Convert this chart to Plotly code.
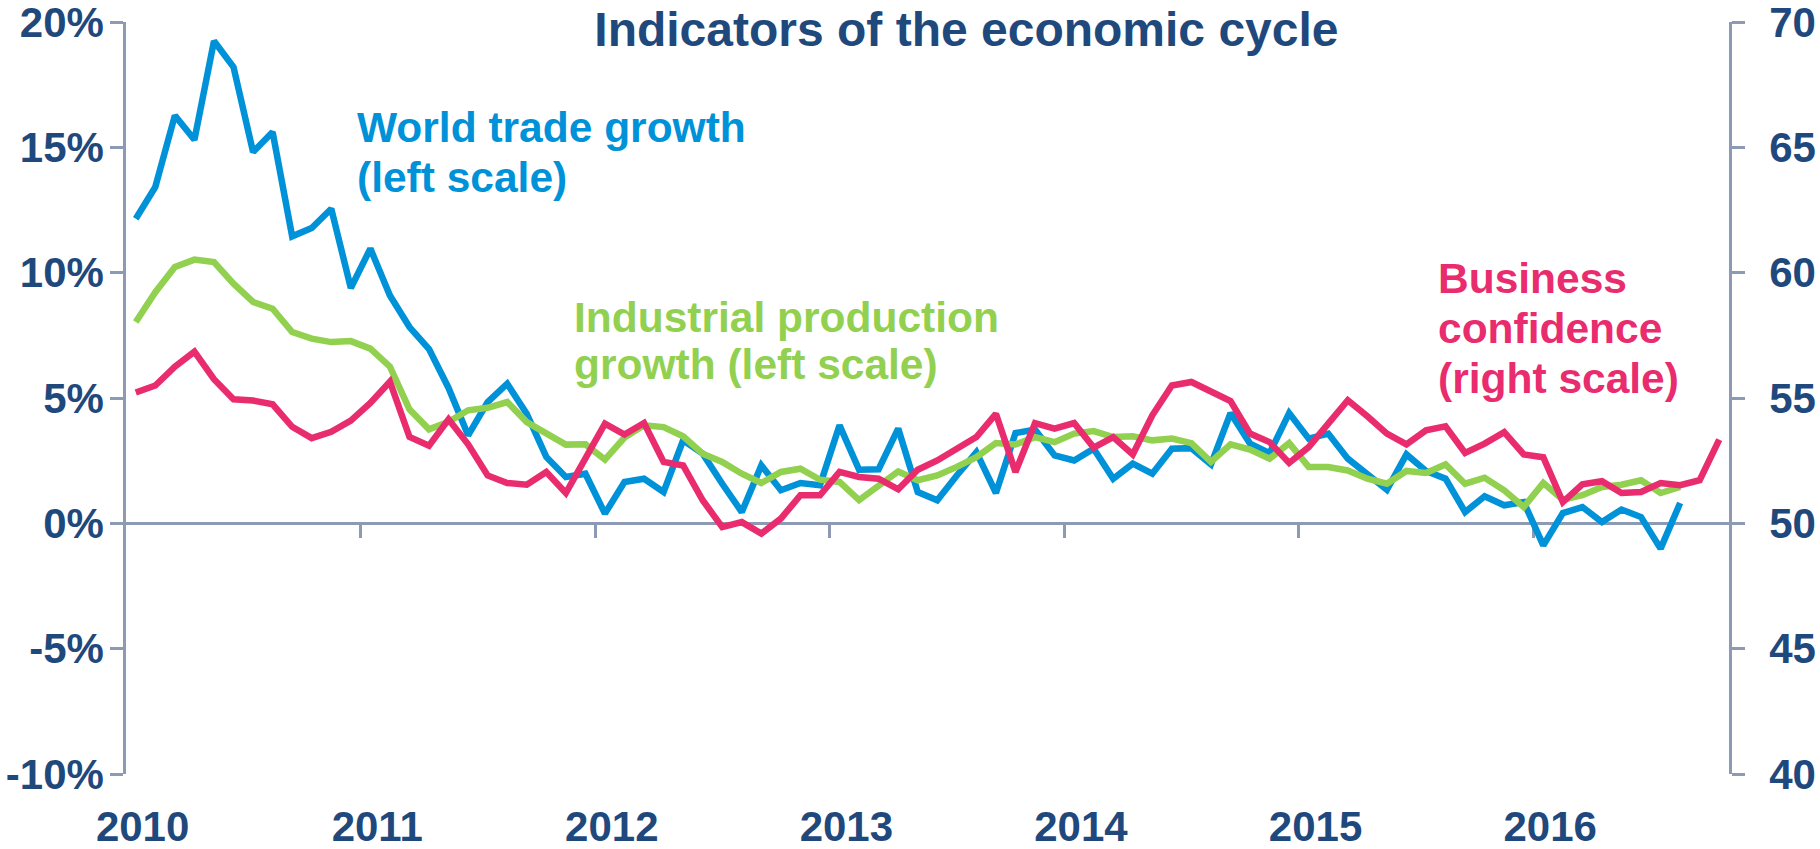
import plotly.graph_objects as go

# Monthly data, Jan 2010 onward
world_trade = [12.15, 13.42, 16.27, 15.30, 19.24, 18.2, 14.81, 15.61, 11.45, 11.78, 12.55, 9.39,
               10.96, 9.09, 7.83, 6.95, 5.4, 3.51, 4.84, 5.57, 4.37, 2.65, 1.85, 1.98,
               0.39, 1.65, 1.78, 1.25, 3.31, 2.78, 1.58, 0.45, 2.31, 1.32, 1.61, 1.52,
               3.91, 2.14, 2.16, 3.78, 1.25, 0.92, 1.91, 2.84, 1.21, 3.6, 3.74, 2.71,
               2.51, 2.98, 1.78, 2.38, 1.98, 2.98, 3.0, 2.35, 4.4, 3.18, 2.8, 4.4,
               3.38, 3.58, 2.58, 1.98, 1.34, 2.75, 2.09, 1.78, 0.45, 1.08, 0.72, 0.85,
               -0.88, 0.41, 0.65, 0.05, 0.55, 0.25, -1.01, 0.81]

industrial = [8.03, 9.22, 10.23, 10.52, 10.42, 9.56, 8.83, 8.56, 7.63, 7.37, 7.23, 7.27,
              6.97, 6.25, 4.55, 3.75, 4.05, 4.51, 4.61, 4.84, 4.04, 3.58, 3.14, 3.15,
              2.54, 3.42, 3.91, 3.84, 3.47, 2.78, 2.45, 1.98, 1.61, 2.05, 2.18, 1.74,
              1.65, 0.93, 1.52, 2.07, 1.72, 1.91, 2.25, 2.64, 3.2, 3.15, 3.44, 3.24,
              3.58, 3.68, 3.44, 3.47, 3.31, 3.38, 3.2, 2.45, 3.15, 2.94, 2.58, 3.2,
              2.25, 2.25, 2.11, 1.78, 1.58, 2.09, 2.01, 2.35, 1.58, 1.82, 1.32, 0.65,
              1.61, 0.94, 1.12, 1.45, 1.54, 1.72, 1.21, 1.45]

confidence = [55.22, 55.5, 56.25, 56.85, 55.75, 54.95, 54.9, 54.75, 53.85, 53.4, 53.65, 54.1,
              54.8, 55.65, 53.45, 53.1, 54.15, 53.15, 51.91, 51.61, 51.54, 52.05, 51.21, 52.54,
              53.98, 53.54, 54.0, 52.45, 52.31, 50.92, 49.85, 50.05, 49.59, 50.19, 51.12, 51.12,
              52.05, 51.85, 51.78, 51.36, 52.14, 52.51, 52.98, 53.44, 54.37, 52.05, 54.0, 53.78,
              54.0, 53.02, 53.44, 52.75, 54.31, 55.5, 55.64, 55.28, 54.88, 53.58, 53.24, 52.41,
              53.04, 53.98, 54.91, 54.27, 53.58, 53.15, 53.71, 53.87, 52.81, 53.18, 53.64, 52.75,
              52.64, 50.85, 51.56, 51.68, 51.21, 51.25, 51.61, 51.52, 51.72, 53.34]

years = ["2010", "2011", "2012", "2013", "2014", "2015", "2016"]
left_ticks = [-10, -5, 0, 5, 10, 15, 20]
left_labels = ["-10%", "-5%", "0%", "5%", "10%", "15%", "20%"]
right_ticks = [40, 45, 50, 55, 60, 65, 70]
right_labels = ["40", "45", "50", "55", "60", "65", "70"]
n_months = len(confidence)

BLUE = "#0092D8"
GREEN = "#92D050"
PINK = "#E92C6E"
NAVY = "#1F497D"
AXIS = "#8D9AB4"
FONT = "Liberation Sans, Arial, sans-serif"
LW = 6.5

fig = go.Figure()
fig.add_trace(go.Scatter(x=list(range(len(world_trade))), y=world_trade, mode="lines",
                         line=dict(color=BLUE, width=LW), name="World trade growth"))
fig.add_trace(go.Scatter(x=list(range(len(industrial))), y=industrial, mode="lines",
                         line=dict(color=GREEN, width=LW), name="Industrial production growth"))
fig.add_trace(go.Scatter(x=list(range(len(confidence))), y=confidence, mode="lines",
                         line=dict(color=PINK, width=LW), name="Business confidence", yaxis="y2"))

year_pos = [12 * k + 0.35 for k in range(len(years))]
boundaries = [12 * k - 0.5 for k in range(1, len(years))]
xr = [-0.5, n_months - 0.5]

tick_font = dict(family=FONT, size=42, color=NAVY, weight="bold")

fig.update_layout(
    width=1820, height=849,
    margin=dict(l=126, r=91, t=22, b=75, autoexpand=False),
    paper_bgcolor="white", plot_bgcolor="white",
    showlegend=False,
    title=dict(text="Indicators of the economic cycle", x=0.531, xanchor="center",
               xref="container", yref="container", y=0.966, yanchor="middle",
               automargin=False,
               font=dict(family=FONT, size=48, color=NAVY, weight="bold")),
    xaxis=dict(range=xr, domain=[0, 1], anchor="y", showline=False, showgrid=False, zeroline=False,
               tickmode="array", tickvals=year_pos, ticktext=years, ticks="", automargin=False,
               tickfont=dict(family=FONT, size=42, color=NAVY, weight="bold"),
               ticklabelstandoff=24, ticklabeloverflow="allow"),
    xaxis2=dict(range=xr, overlaying="x", anchor="free", position=1/3, side="bottom",
                showline=True, linecolor=AXIS, linewidth=3, showgrid=False, zeroline=False,
                tickmode="array", tickvals=boundaries, ticks="outside", ticklen=13,
                automargin=False,
                tickwidth=3, tickcolor=AXIS, showticklabels=False, layer="below traces"),
    yaxis=dict(range=[-10, 20], tickmode="array", tickvals=left_ticks, ticktext=left_labels,
               showline=True, automargin=False, ticklabeloverflow="allow",
               linecolor=AXIS, linewidth=2.5, ticks="outside", ticklen=13, tickwidth=2.5,
               tickcolor=AXIS, showgrid=False, zeroline=False, tickfont=tick_font,
               ticklabelstandoff=-2),
    yaxis2=dict(range=[40, 70], tickmode="array", tickvals=right_ticks, ticktext=right_labels,
                overlaying="y", side="right", automargin=False, ticklabeloverflow="allow",
                showline=True, linecolor=AXIS, linewidth=2.5, ticks="outside", ticklen=13,
                tickwidth=2.5, tickcolor=AXIS, showgrid=False, zeroline=False,
                tickfont=tick_font, ticklabelstandoff=16),
)

# helper empty trace so the overlay axis carrying tick marks is instantiated
fig.add_trace(go.Scatter(x=[], y=[], xaxis="x2", yaxis="y", showlegend=False, hoverinfo="skip"))

labels = [
    ("World trade growth", 11.23, 15.78, BLUE),
    ("(left scale)", 11.23, 13.8, BLUE),
    ("Industrial production", 22.33, 8.2, GREEN),
    ("growth (left scale)", 22.33, 6.32, GREEN),
    ("Business", 66.52, 9.77, PINK),
    ("confidence", 66.52, 7.78, PINK),
    ("(right scale)", 66.52, 5.78, PINK),
]
for text, x, y, col in labels:
    fig.add_annotation(text=text, x=x, y=y, xref="x", yref="y", xanchor="left", yanchor="middle",
                       showarrow=False, font=dict(family=FONT, size=42.5, color=col, weight="bold"))

fig.write_html("out.html", config={"displayModeBar": False},
               post_script="document.body.style.margin='0';document.body.style.overflow='hidden';")
